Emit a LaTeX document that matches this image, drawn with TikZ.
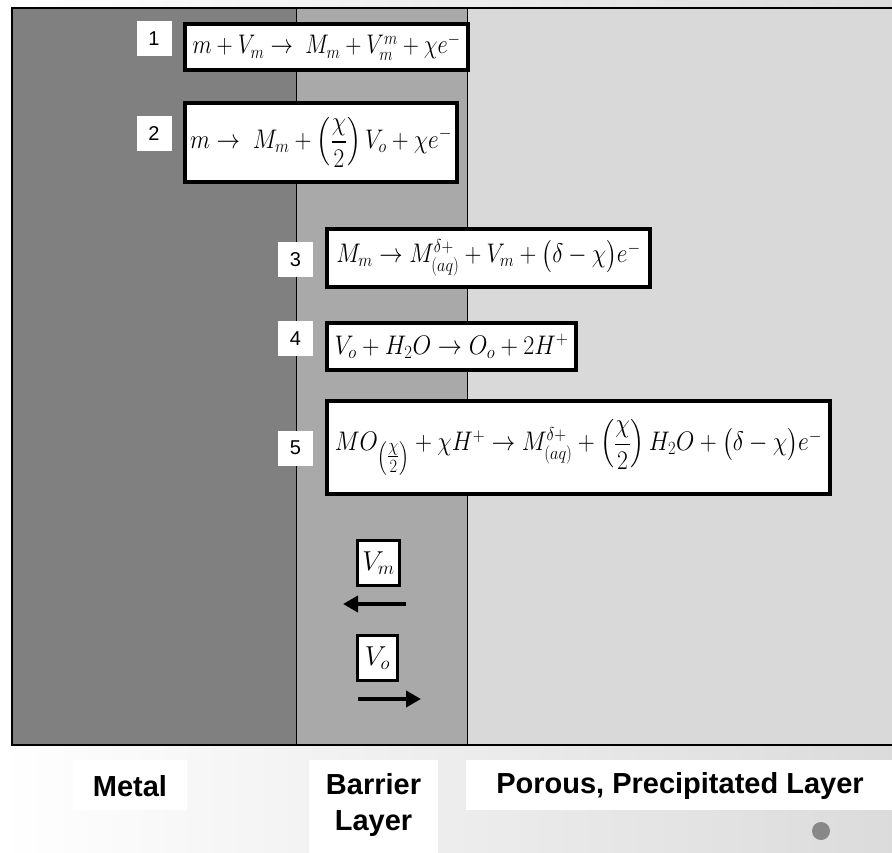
\documentclass[tikz,border=0pt]{standalone}
\usepackage{amsmath}
\usepackage{graphicx}
\usepackage{fontspec}
\newfontfamily\arialf{Liberation Sans}
\usetikzlibrary{arrows.meta}
\definecolor{metalc}{HTML}{808080}
\definecolor{barrierc}{HTML}{A9A9A9}
\definecolor{porousc}{HTML}{D9D9D9}
\definecolor{dotc}{HTML}{888888}
\newcommand{\eqfit}[2]{\scalebox{#1}[1.08]{$#2$}}
\begin{document}
\begin{tikzpicture}[x=1pt,y=-1pt,
  eqbox/.style={draw=black, line width=4pt, fill=white, inner sep=0pt, font=\fontsize{24}{28}\selectfont},
  numbox/.style={fill=white, inner sep=0pt, minimum width=35pt, minimum height=35pt, font=\arialf\fontsize{20}{24}\selectfont},
  vbox/.style={draw=black, line width=3.5pt, fill=white, inner sep=0pt, font=\fontsize{24}{28}\selectfont},
  captext/.style={font=\arialf\bfseries\fontsize{29}{36}\selectfont, align=center, inner sep=0pt},
  flux/.style={line width=4.5pt, -{Triangle[length=15pt,width=16pt]}}
]
\useasboundingbox (0,0) rectangle (892,853);
\shade[left color=white, right color=black!14] (0,0) rectangle (892,853);
% layers
\fill[metalc] (12,8) rectangle (296,745);
\fill[barrierc] (296,8) rectangle (467,745);
\fill[porousc] (467,8) rectangle (892,745);
\draw[line width=0.8pt] (296,8) -- (296,745);
\draw[line width=0.8pt] (467,8) -- (467,745);
\draw[line width=1.8pt] (892,8) -- (12,8) -- (12,745) -- (892,745);
% numbered labels
\node[numbox] (n1) at (154,39) {1};
\node[numbox] (n2) at (154,134) {2};
\node[numbox] (n3) at (295.5,259.5) {3};
\node[numbox] (n4) at (295.5,338.5) {4};
\node[numbox] (n5) at (295.5,448) {5};
% equations
\node[eqbox, minimum width=283pt, minimum height=46pt] (e1) at (326.5,47)
  {\eqfit{0.9}{m+V_m\rightarrow\; M_m+V_m^{m}+\chi e^{-}}};
\node[eqbox, minimum width=272pt, minimum height=79pt] (e2) at (321,142.5)
  {\eqfit{0.94}{m\rightarrow\; M_m+\left(\dfrac{\chi}{2}\right)V_o+\chi e^{-}}};
\node[eqbox, minimum width=323pt, minimum height=58pt] (e3) at (488.5,258)
  {\eqfit{0.94}{M_m\rightarrow M_{(aq)}^{\delta+}+V_m+\bigl(\delta-\chi\bigr)e^{-}}};
\node[eqbox, minimum width=249pt, minimum height=47pt] (e4) at (451.5,346.5)
  {\eqfit{0.97}{V_o+H_2O\rightarrow O_o+2H^{+}}};
\node[eqbox, minimum width=503pt, minimum height=93pt] (e5) at (578.5,447.5)
  {\eqfit{0.95}{MO_{\left(\genfrac{}{}{}{1}{\chi}{2}\right)}+\chi H^{+}\rightarrow M_{(aq)}^{\delta+}+\left(\dfrac{\chi}{2}\right)H_2O+\bigl(\delta-\chi\bigr)e^{-}}};
% vacancy fluxes
\node[vbox, minimum width=42pt, minimum height=45pt] (vm) at (378.5,563) {\scalebox{1.1}{$V_m$}};
\node[vbox, minimum width=40pt, minimum height=45pt] (vo) at (377.5,658) {\scalebox{1.1}{$V_o$}};
\coordinate (vmR) at (406,604);
\coordinate (vmL) at (343,604);
\coordinate (voL) at (358,699);
\coordinate (voR) at (421,699);
\draw[flux] (vmR) -- (vmL);
\draw[flux] (voL) -- (voR);
% captions
\fill[white] (73,760) rectangle (187,810);
\fill[white] (309,760) rectangle (438,853);
\fill[white] (466,760) rectangle (892,810);
\node[captext] (cmetal) at (130,786) {Metal};
\node[captext] (cbarrier) at (373.5,805) {Barrier\\Layer};
\node[captext] (cporous) at (680,786) {Porous, Precipitated Layer};
\fill[dotc] (821,831) circle (9);
\end{tikzpicture}
\end{document}
